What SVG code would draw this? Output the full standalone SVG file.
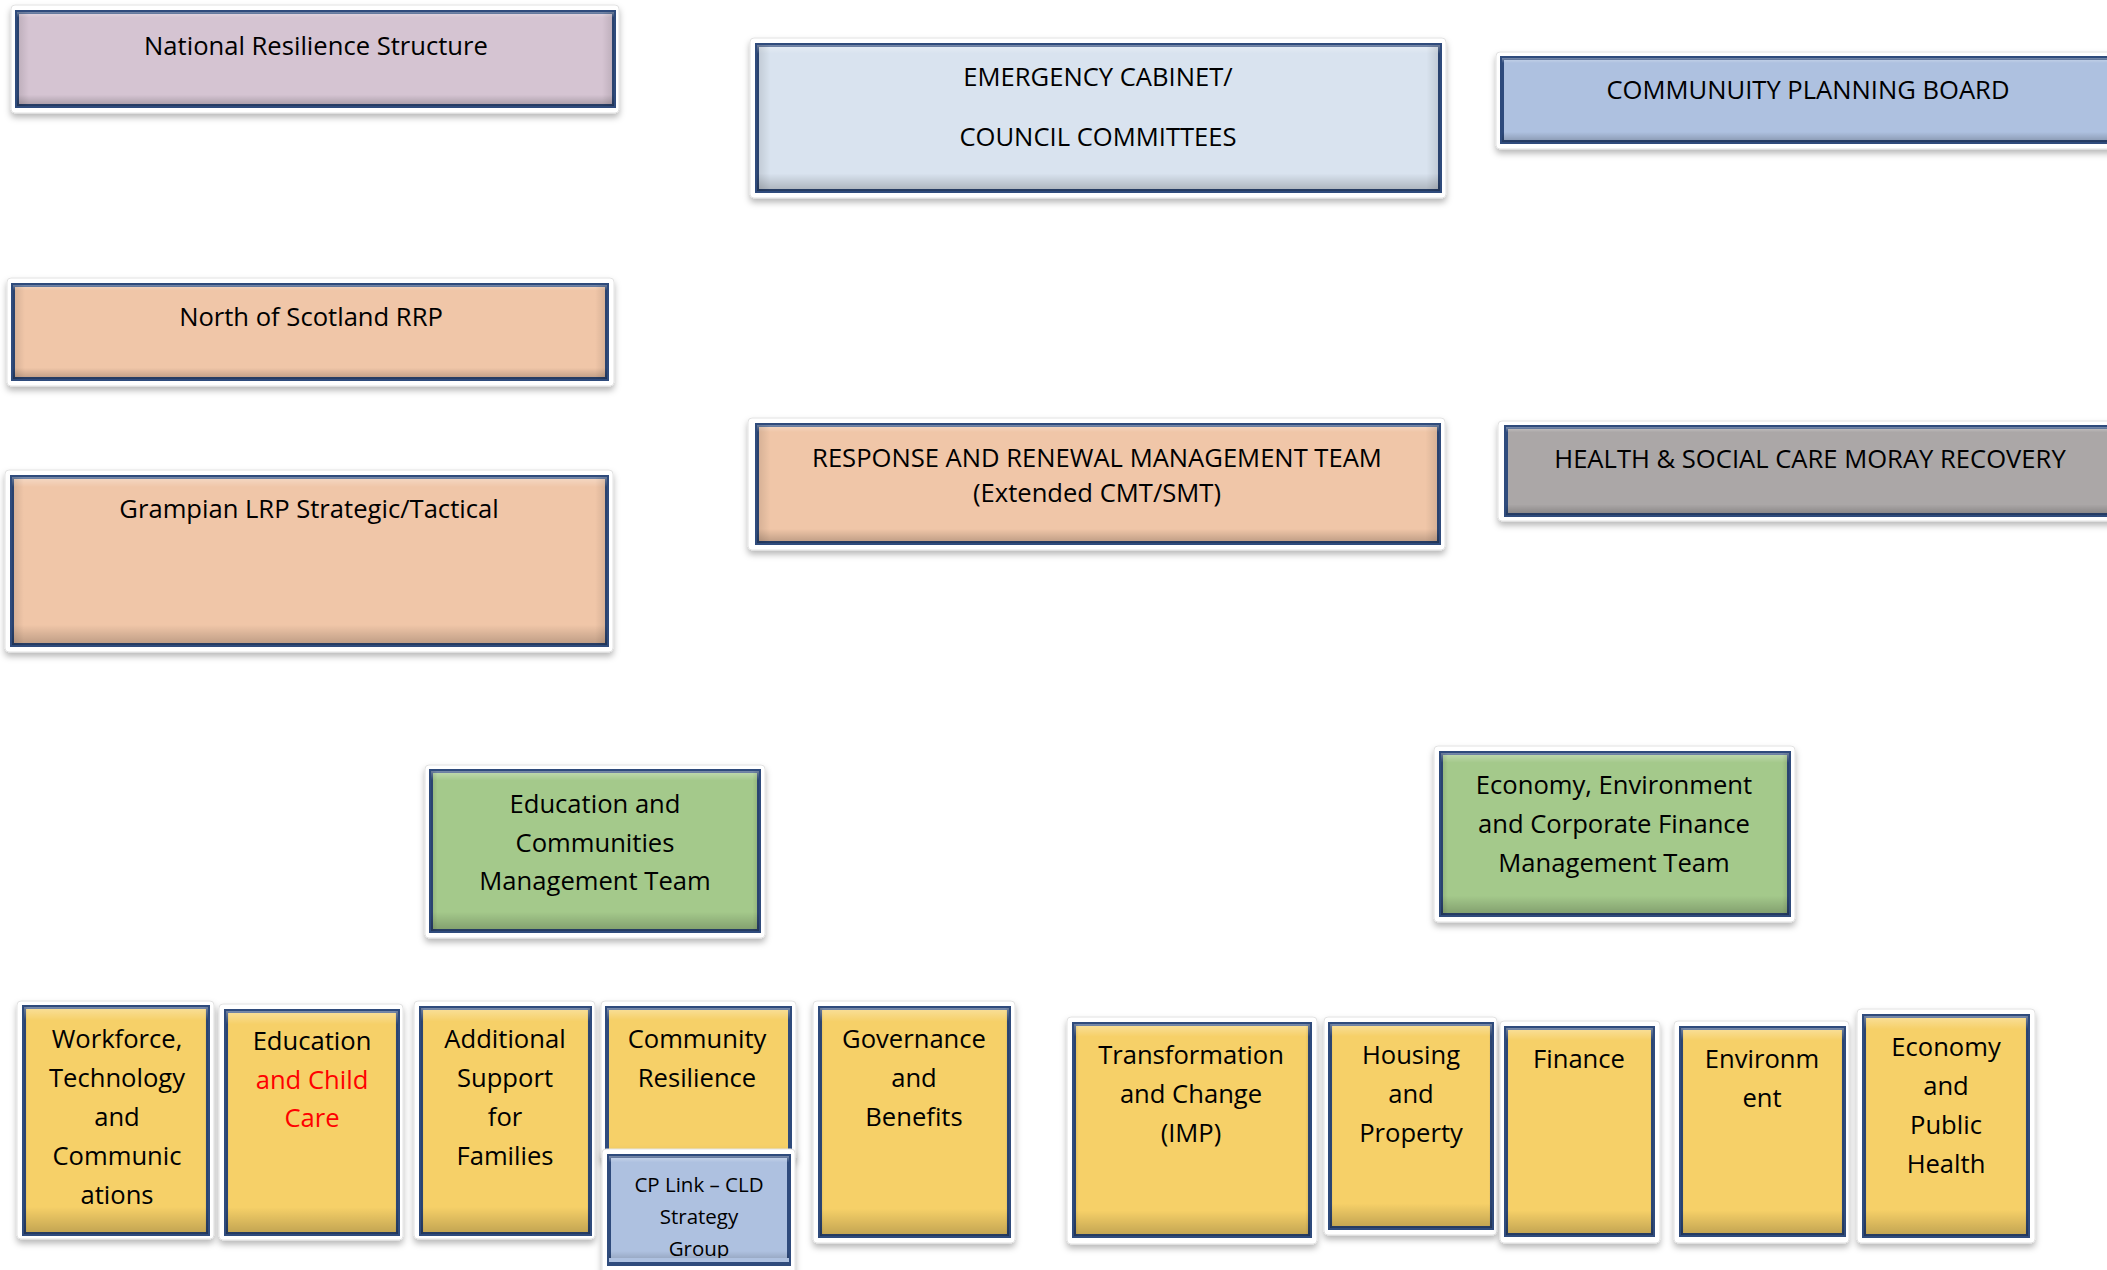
<svg xmlns="http://www.w3.org/2000/svg" width="2107" height="1270" viewBox="0 0 2107 1270">
<defs>
<filter id="sh" x="-10%" y="-10%" width="120%" height="130%">
<feDropShadow dx="0" dy="4" stdDeviation="3" flood-color="#000" flood-opacity="0.28"/>
</filter>
<linearGradient id="bev" x1="0" y1="0" x2="0" y2="1">
<stop offset="0" stop-color="#fff" stop-opacity="0.35"/>
<stop offset="0.06" stop-color="#fff" stop-opacity="0"/>
<stop offset="0.88" stop-color="#000" stop-opacity="0"/>
<stop offset="1" stop-color="#000" stop-opacity="0.22"/>
</linearGradient>
<linearGradient id="bevx" x1="0" y1="0" x2="1" y2="0">
<stop offset="0" stop-color="#000" stop-opacity="0.12"/>
<stop offset="0.02" stop-color="#000" stop-opacity="0"/>
<stop offset="0.98" stop-color="#000" stop-opacity="0"/>
<stop offset="1" stop-color="#000" stop-opacity="0.12"/>
</linearGradient>
</defs>
<style>
.frame{fill:#fff;stroke:#e2e2e2;stroke-width:1;filter:url(#sh)}
.box{stroke:#2F4B7C;stroke-width:4}
.bev{fill:url(#bev)}
.bevx{fill:url(#bevx)}
.mauve{fill:#D5C4D2}
.lblue{fill:#D9E3EF}
.blue{fill:#AEC1E0}
.peach{fill:#F0C6A8}
.grey{fill:#ABA7A7}
.green{fill:#A4C98B}
.yellow{fill:#F6D068}
.t{font-family:"Open Sans","Noto Sans",sans-serif;font-size:25.6px;fill:#000;text-anchor:middle;font-variant-ligatures:none}
.s{font-size:20.5px}
.red{fill:#FF0000}
</style>
<rect width="2107" height="1270" fill="#fff"/>
<g id="connectors"/>

<g id="national-resilience">
<rect class="frame" x="11" y="5" width="608" height="108" rx="4"/>
<rect class="box mauve" x="17" y="12" width="597" height="94"/>
<rect class="bev" x="17" y="12" width="597" height="94"/><rect class="bevx" x="17" y="12" width="597" height="94"/>
<text class="t" x="316" y="55">National Resilience Structure</text>
</g>

<g id="emergency-cabinet">
<rect class="frame" x="750" y="38" width="696" height="160" rx="4"/>
<rect class="box lblue" x="757" y="45" width="683" height="146"/>
<rect class="bev" x="757" y="45" width="683" height="146"/><rect class="bevx" x="757" y="45" width="683" height="146"/>
<text class="t" x="1098" y="86">EMERGENCY CABINET/</text>
<text class="t" x="1098" y="146">COUNCIL COMMITTEES</text>
</g>

<g id="community-planning-board">
<rect class="frame" x="1496" y="52" width="640" height="97" rx="4"/>
<rect class="box blue" x="1502" y="58" width="630" height="84"/>
<rect class="bev" x="1502" y="58" width="630" height="84"/>
<text class="t" x="1808" y="99">COMMUNUITY PLANNING BOARD</text>
</g>

<g id="north-scotland-rrp">
<rect class="frame" x="7" y="278" width="607" height="108" rx="4"/>
<rect class="box peach" x="13" y="285" width="594" height="94"/>
<rect class="bev" x="13" y="285" width="594" height="94"/><rect class="bevx" x="13" y="285" width="594" height="94"/>
<text class="t" x="311" y="326">North of Scotland RRP</text>
</g>

<g id="grampian-lrp">
<rect class="frame" x="5" y="470" width="608" height="182" rx="4"/>
<rect class="box peach" x="12" y="477" width="595" height="168"/>
<rect class="bev" x="12" y="477" width="595" height="168"/><rect class="bevx" x="12" y="477" width="595" height="168"/>
<text class="t" x="309" y="518">Grampian LRP Strategic/Tactical</text>
</g>

<g id="response-renewal">
<rect class="frame" x="748" y="418" width="697" height="132" rx="4"/>
<rect class="box peach" x="757" y="425" width="682" height="118"/>
<rect class="bev" x="757" y="425" width="682" height="118"/><rect class="bevx" x="757" y="425" width="682" height="118"/>
<text class="t" x="1097" y="467">RESPONSE AND RENEWAL MANAGEMENT TEAM</text>
<text class="t" x="1097" y="502">(Extended CMT/SMT)</text>
</g>

<g id="health-social-care">
<rect class="frame" x="1498" y="421" width="640" height="100" rx="4"/>
<rect class="box grey" x="1506" y="427" width="630" height="88"/>
<rect class="bev" x="1506" y="427" width="630" height="88"/>
<text class="t" x="1810" y="468">HEALTH &amp; SOCIAL CARE MORAY RECOVERY</text>
</g>

<g id="education-communities-mt">
<rect class="frame" x="425" y="765" width="340" height="173" rx="4"/>
<rect class="box green" x="431" y="771" width="328" height="160"/>
<rect class="bev" x="431" y="771" width="328" height="160"/><rect class="bevx" x="431" y="771" width="328" height="160"/>
<text class="t" x="595" y="813">Education and</text>
<text class="t" x="595" y="852">Communities</text>
<text class="t" x="595" y="890">Management Team</text>
</g>

<g id="economy-environment-mt">
<rect class="frame" x="1434" y="746" width="361" height="176" rx="4"/>
<rect class="box green" x="1441" y="753" width="348" height="162"/>
<rect class="bev" x="1441" y="753" width="348" height="162"/><rect class="bevx" x="1441" y="753" width="348" height="162"/>
<text class="t" x="1614" y="794">Economy, Environment</text>
<text class="t" x="1614" y="833">and Corporate Finance</text>
<text class="t" x="1614" y="872">Management Team</text>
</g>

<g id="workforce">
<rect class="frame" x="17" y="1001" width="197" height="238" rx="4"/>
<rect class="box yellow" x="24" y="1007" width="184" height="227"/>
<rect class="bev" x="24" y="1007" width="184" height="227"/><rect class="bevx" x="24" y="1007" width="184" height="227"/>
<text class="t" x="117" y="1048">Workforce,</text>
<text class="t" x="117" y="1087">Technology</text>
<text class="t" x="117" y="1126">and</text>
<text class="t" x="117" y="1165">Communic</text>
<text class="t" x="117" y="1204">ations</text>
</g>

<g id="education-child-care">
<rect class="frame" x="219" y="1004" width="184" height="236" rx="4"/>
<rect class="box yellow" x="226" y="1011" width="172" height="223"/>
<rect class="bev" x="226" y="1011" width="172" height="223"/><rect class="bevx" x="226" y="1011" width="172" height="223"/>
<text class="t" x="312" y="1050">Education</text>
<text class="t red" x="312" y="1089">and Child</text>
<text class="t red" x="312" y="1127">Care</text>
</g>

<g id="additional-support">
<rect class="frame" x="414" y="1001" width="181" height="238" rx="4"/>
<rect class="box yellow" x="421" y="1008" width="169" height="226"/>
<rect class="bev" x="421" y="1008" width="169" height="226"/><rect class="bevx" x="421" y="1008" width="169" height="226"/>
<text class="t" x="505" y="1048">Additional</text>
<text class="t" x="505" y="1087">Support</text>
<text class="t" x="505" y="1126">for</text>
<text class="t" x="505" y="1165">Families</text>
</g>

<g id="community-resilience">
<rect class="frame" x="601" y="1001" width="195" height="160" rx="4"/>
<rect class="box yellow" x="607" y="1008" width="183" height="147"/>
<rect class="bev" x="607" y="1008" width="183" height="200"/>
<text class="t" x="697" y="1048">Community</text>
<text class="t" x="697" y="1087">Resilience</text>
</g>

<g id="cp-link">
<rect class="frame" x="602" y="1149" width="193" height="130" rx="4"/>
<rect class="box blue" x="609" y="1156" width="180" height="108"/>
<rect class="bev" x="609" y="1156" width="180" height="108"/>
<text class="t s" x="699" y="1192">CP Link – CLD</text>
<text class="t s" x="699" y="1224">Strategy</text>
<text class="t s" x="699" y="1256">Group</text>
<rect x="609" y="1258" width="180" height="6" fill="#AEC1E0"/>
<rect x="607" y="1262" width="184" height="3" fill="#2F4B7C"/>
</g>

<g id="governance-benefits">
<rect class="frame" x="813" y="1001" width="202" height="242" rx="4"/>
<rect class="box yellow" x="820" y="1008" width="189" height="228"/>
<rect class="bev" x="820" y="1008" width="189" height="228"/><rect class="bevx" x="820" y="1008" width="189" height="228"/>
<text class="t" x="914" y="1048">Governance</text>
<text class="t" x="914" y="1087">and</text>
<text class="t" x="914" y="1126">Benefits</text>
</g>

<g id="transformation-change">
<rect class="frame" x="1067" y="1017" width="250" height="227" rx="4"/>
<rect class="box yellow" x="1074" y="1024" width="236" height="212"/>
<rect class="bev" x="1074" y="1024" width="236" height="212"/><rect class="bevx" x="1074" y="1024" width="236" height="212"/>
<text class="t" x="1191" y="1064">Transformation</text>
<text class="t" x="1191" y="1103">and Change</text>
<text class="t" x="1191" y="1142">(IMP)</text>
</g>

<g id="housing-property">
<rect class="frame" x="1324" y="1017" width="173" height="218" rx="4"/>
<rect class="box yellow" x="1330" y="1024" width="162" height="204"/>
<rect class="bev" x="1330" y="1024" width="162" height="204"/><rect class="bevx" x="1330" y="1024" width="162" height="204"/>
<text class="t" x="1411" y="1064">Housing</text>
<text class="t" x="1411" y="1103">and</text>
<text class="t" x="1411" y="1142">Property</text>
</g>

<g id="finance">
<rect class="frame" x="1500" y="1021" width="160" height="222" rx="4"/>
<rect class="box yellow" x="1506" y="1028" width="147" height="207"/>
<rect class="bev" x="1506" y="1028" width="147" height="207"/><rect class="bevx" x="1506" y="1028" width="147" height="207"/>
<text class="t" x="1579" y="1068">Finance</text>
</g>

<g id="environment">
<rect class="frame" x="1674" y="1021" width="175" height="222" rx="4"/>
<rect class="box yellow" x="1681" y="1028" width="163" height="207"/>
<rect class="bev" x="1681" y="1028" width="163" height="207"/><rect class="bevx" x="1681" y="1028" width="163" height="207"/>
<text class="t" x="1762" y="1068">Environm</text>
<text class="t" x="1762" y="1107">ent</text>
</g>

<g id="economy-public-health">
<rect class="frame" x="1857" y="1009" width="178" height="234" rx="4"/>
<rect class="box yellow" x="1864" y="1016" width="164" height="220"/>
<rect class="bev" x="1864" y="1016" width="164" height="220"/><rect class="bevx" x="1864" y="1016" width="164" height="220"/>
<text class="t" x="1946" y="1056">Economy</text>
<text class="t" x="1946" y="1095">and</text>
<text class="t" x="1946" y="1134">Public</text>
<text class="t" x="1946" y="1173">Health</text>
</g>
</svg>
